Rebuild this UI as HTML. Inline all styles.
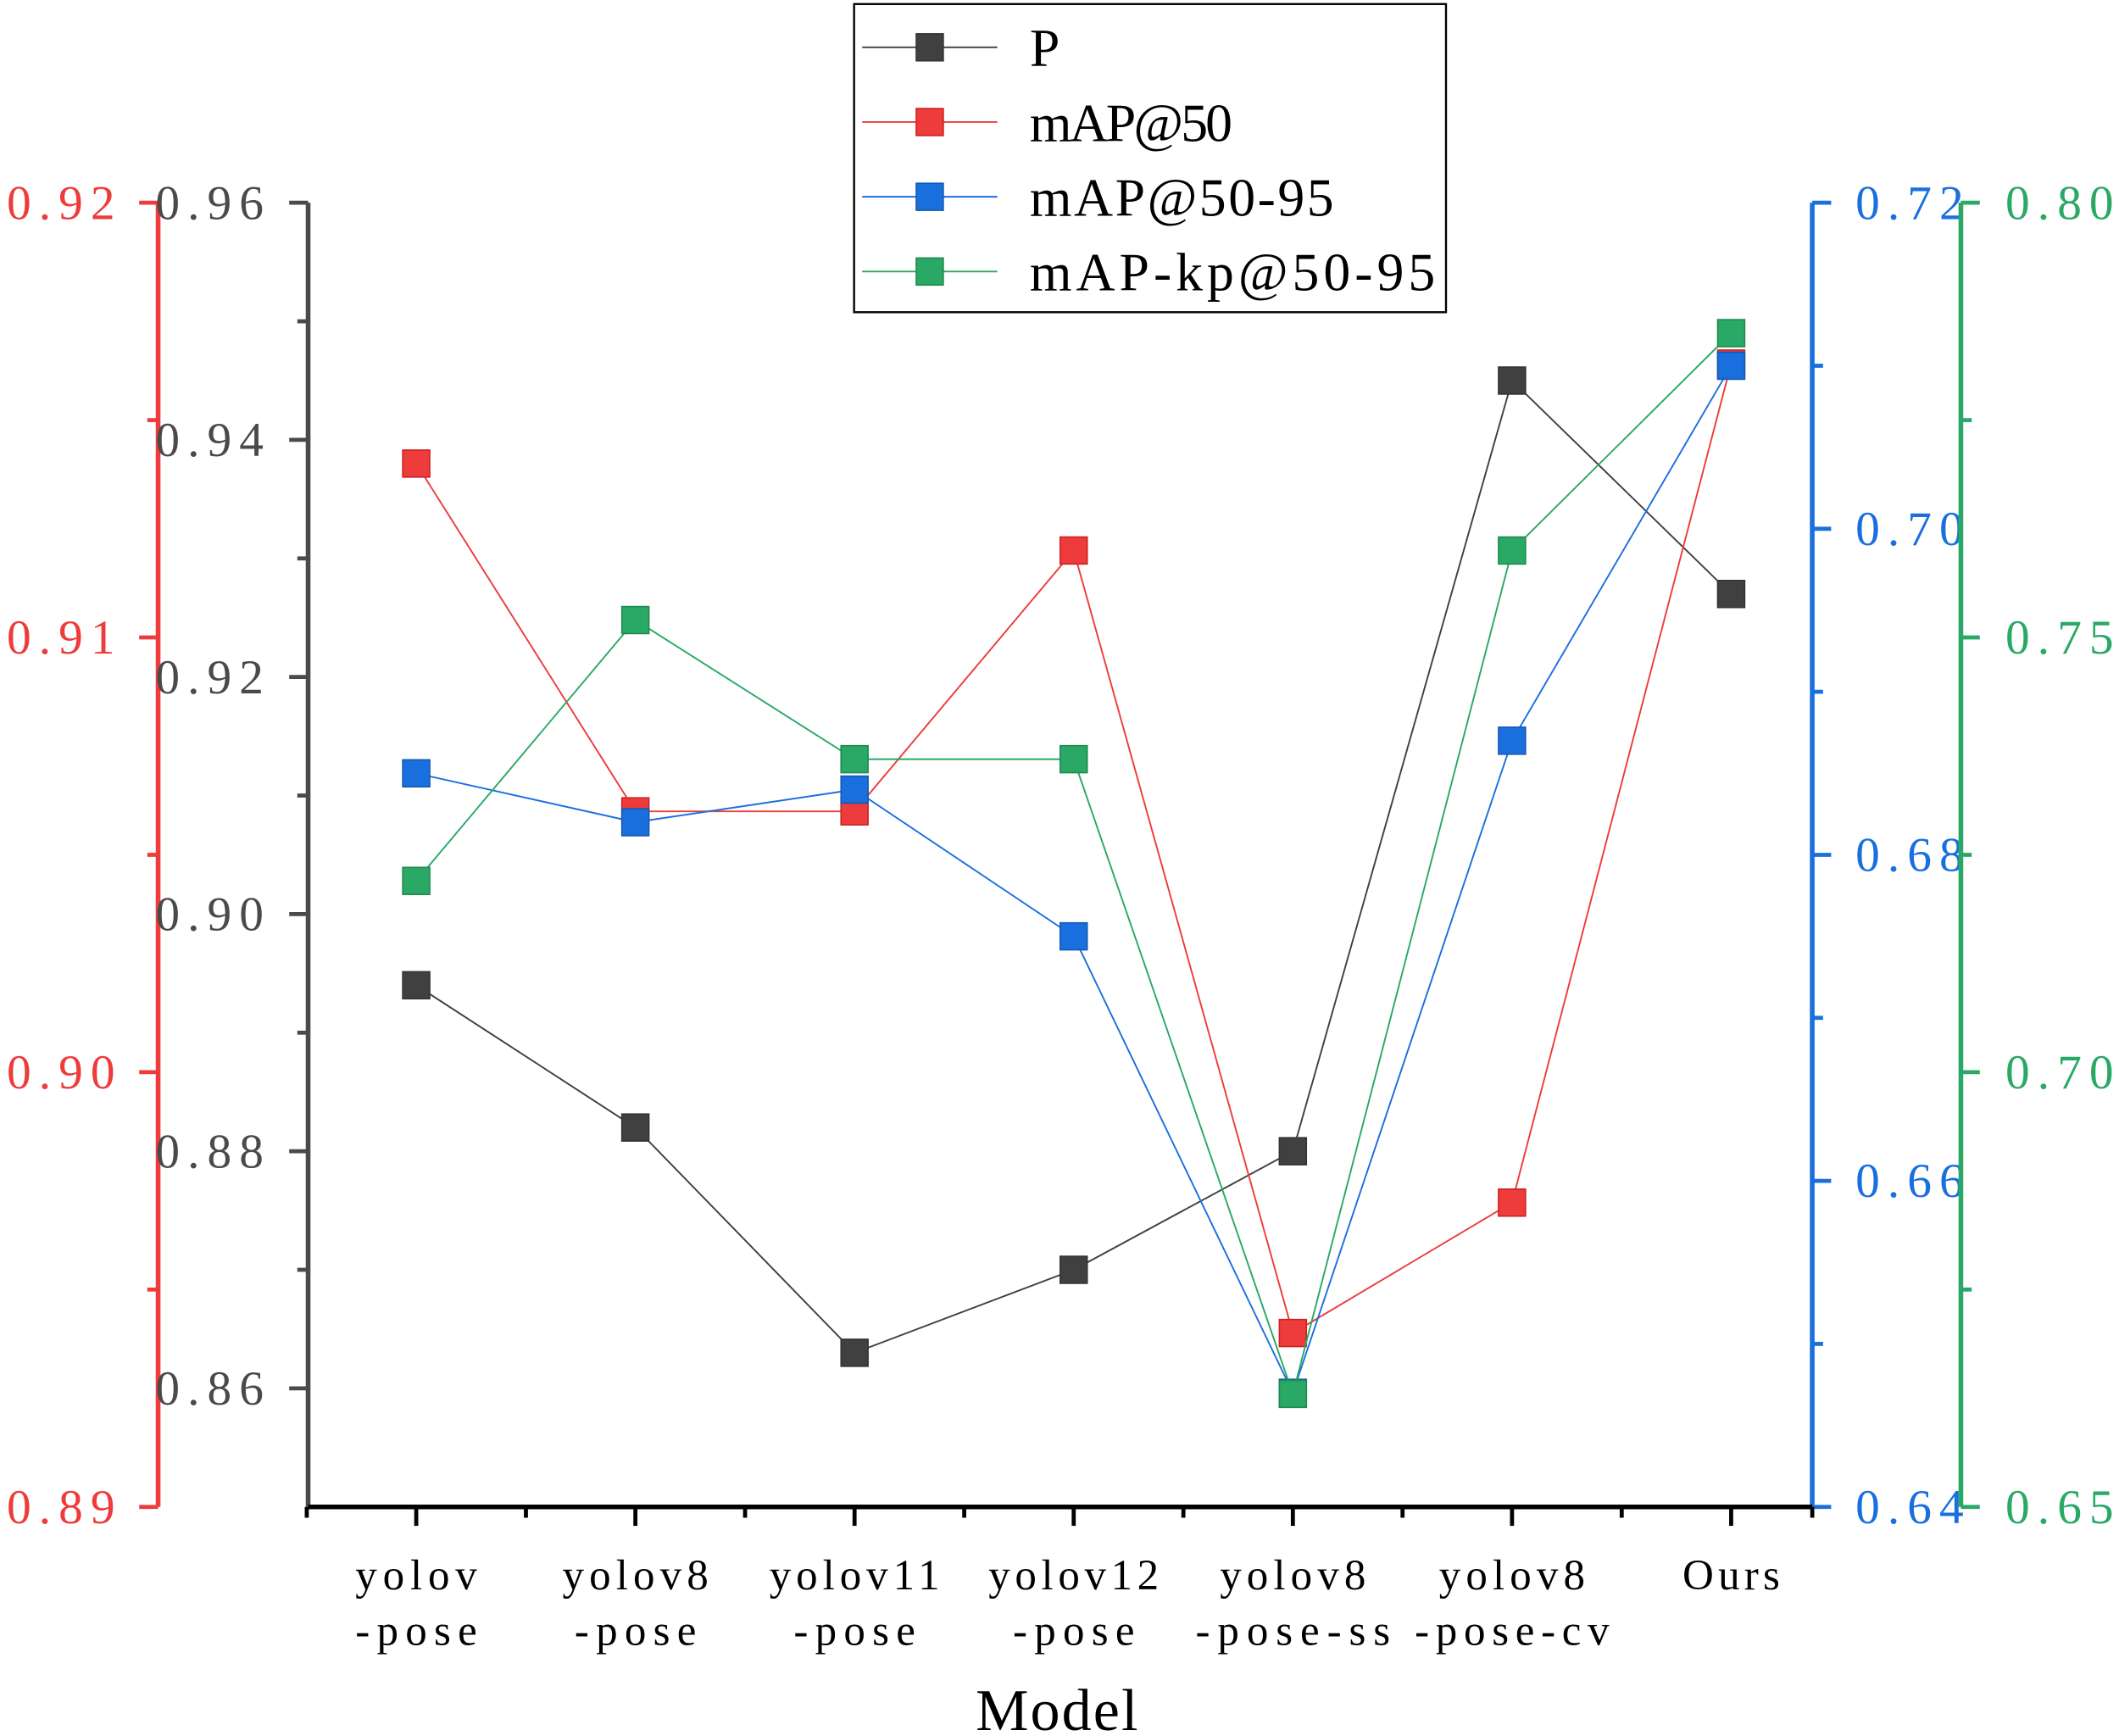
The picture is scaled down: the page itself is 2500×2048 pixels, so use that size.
<!DOCTYPE html>
<html><head><meta charset="utf-8"><style>
html,body{margin:0;padding:0;background:#fff}
svg{display:block}
text{font-family:"Liberation Serif","Noto Serif CJK SC",serif}
</style></head><body>
<svg id="chart" width="2500" height="2048" viewBox="0 0 1568 1284.5" preserveAspectRatio="none" xmlns="http://www.w3.org/2000/svg">
<g id="axes"></g>
<g id="series"></g>
<g id="legend">
<rect x="632" y="3" width="438" height="228" fill="#fff" stroke="#000" stroke-width="1.5"/>
</g>
<text x="722" y="1280" font-size="44" textLength="120" lengthAdjust="spacing" fill="#000">Model</text>
</svg>
<script>
const categories = [["yolov","-pose"],["yolov8","-pose"],["yolov11","-pose"],["yolov12","-pose"],["yolov8","-pose-ss"],["yolov8","-pose-cv"],["Ours",""]];
const seriesNames = ["P","mAP@50","mAP@50-95","mAP-kp@50-95"];
const pValues = [0.894,0.882,0.863,0.870,0.880,0.945,0.927];
const map50Values = [0.914,0.906,0.906,0.912,0.894,0.897,0.9163];
const map5095Values = [0.685,0.682,0.684,0.675,0.647,0.687,0.710];
const kpValues = [0.722,0.752,0.736,0.736,0.663,0.760,0.785];
const pTicks = [0.86,0.88,0.90,0.92,0.94,0.96];
const redTicks = [0.89,0.90,0.91,0.92];
const blueTicks = [0.64,0.66,0.68,0.70,0.72];
const greenTicks = [0.65,0.70,0.75,0.80];

const NS="http://www.w3.org/2000/svg";
const TOP=150,BOT=1115,XL=228,XR=1341;
function mk(tag,attrs,parent,txt){const e=document.createElementNS(NS,tag);for(const k in attrs)e.setAttribute(k,attrs[k]);if(txt!==undefined)e.textContent=txt;parent.appendChild(e);return e;}
function yScale(min,max){return v=>BOT-(v-min)/(max-min)*(BOT-TOP);}
function xScale(i){return 308+i*162.17;}
const yP=yScale(0.85,0.96), yR=yScale(0.89,0.92), yB=yScale(0.64,0.72), yG=yScale(0.65,0.80);
const axes=document.getElementById('axes');

function vAxis(x,color,sc,ticks,step,side,labelX,name){
  const g=mk('g',{},axes);
  
  
  mk('line',{x1:x,y1:TOP,x2:x,y2:BOT,stroke:color,'stroke-width':3.5},g);
  ticks.forEach(v=>{const y=sc(v);
    mk('line',{x1:x,y1:y,x2:x+side*14,y2:y,stroke:color,'stroke-width':3},g);
    const t=mk('text',{x:labelX,y:y+12,'font-size':36,fill:color,textLength:80,lengthAdjust:'spacing'},g,v.toFixed(2));
    
    
    const m=v+step/2; if(m<ticks[ticks.length-1]+1e-9){const ym=sc(m);mk('line',{x1:x,y1:ym,x2:x+side*8,y2:ym,stroke:color,'stroke-width':3},g);}
  });
}
vAxis(117,'#ee3b3b',yR,redTicks,0.01,-1,5,'red-y-axis');
vAxis(228,'#4a4a4a',yP,pTicks,0.02,-1,115,'p-y-axis');
vAxis(1341,'#1a6fdf',yB,blueTicks,0.02,1,1373,'blue-y-axis');
vAxis(1451,'#2aa865',yG,greenTicks,0.05,1,1484,'green-y-axis');
const xg=mk('g',{},axes);


mk('line',{x1:XL,y1:BOT,x2:XR,y2:BOT,stroke:'#000','stroke-width':3.5},xg);
categories.forEach((c,i)=>{const x=xScale(i);
  mk('line',{x1:x,y1:BOT,x2:x,y2:BOT+14,stroke:'#000','stroke-width':3},xg);
  mk('line',{x1:x-81,y1:BOT,x2:x-81,y2:BOT+8,stroke:'#000','stroke-width':3},xg);
  if(i==categories.length-1)mk('line',{x1:x+60,y1:BOT,x2:x+60,y2:BOT+8,stroke:'#000','stroke-width':3},xg);
  const t=mk('text',{x:x,y:1176,'font-size':32,'text-anchor':'middle',fill:'#000',textLength:c[0].length*18,lengthAdjust:'spacing'},xg,c[0]);
  
  
  if(c[1]){const t2=mk('text',{x:x,y:1217,'font-size':32,'text-anchor':'middle',fill:'#000',textLength:c[1].length*18,lengthAdjust:'spacing'},xg,c[1]);
  
  }
});
const sg=document.getElementById('series');
const defs=[[pValues,yP,'#404040','#333'],[map50Values,yR,'#ee3b3b','#c22'],[map5095Values,yB,'#1a6fdf','#1558b0'],[kpValues,yG,'#2aa865','#1e8a50']];
defs.forEach((d,si)=>{
  const [vals,sc,col,bd]=d;
  const g=mk('g',{},sg);
  
  
  const pts=vals.map((v,i)=>xScale(i)+','+sc(v)).join(' ');
  mk('polyline',{points:pts,fill:'none',stroke:col,'stroke-width':1.2},g);
  vals.forEach((v,i)=>{const r=mk('rect',{x:xScale(i)-10,y:sc(v)-10,width:20,height:20,fill:col,stroke:bd,'stroke-width':1},g);
    
    });
});
const lg=document.getElementById('legend');
seriesNames.forEach((n,i)=>{const y=35+i*55.3;const col=defs[i][2];
  const e=mk('g',{},lg);
  
  
  mk('line',{x1:638,y1:y,x2:738,y2:y,stroke:col,'stroke-width':1.2},e);
  mk('rect',{x:678,y:y-10,width:20,height:20,fill:col,stroke:defs[i][3]},e);
  mk('text',{x:762,y:y+14,'font-size':40,fill:'#000',textLength:n.length*25,lengthAdjust:'spacing'},e,n);
});
</script>
</body></html>
